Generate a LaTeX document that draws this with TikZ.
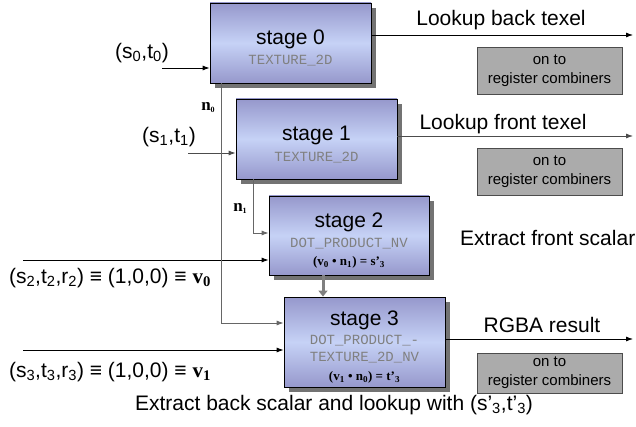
\documentclass[tikz,border=0pt]{standalone}
\usepackage{fontspec}
\setmainfont{Liberation Sans}
\newfontfamily\codefont{Liberation Mono}
\newfontfamily\timesfont{Liberation Serif}
\usetikzlibrary{arrows.meta,shadows}

\newcommand{\bigtxt}{\fontsize{21}{24}\selectfont}
\newcommand{\codetxt}{\codefont\fontsize{14}{17}\selectfont\color{black!50}}
\newcommand{\mathtxt}{\timesfont\bfseries\fontsize{13}{17}\selectfont}
\newcommand{\smalltxt}{\fontsize{15}{19}\selectfont}
\newcommand{\subtxt}{\fontsize{8}{8}\selectfont}
\newcommand{\stagetitle}[1]{\rule{0pt}{25pt}{\bigtxt stage #1}}

\tikzset{
  stagebox/.style={draw=black, line width=0.8pt,
    top color=stagedark, bottom color=stagedark, middle color=stagelight,
    align=center, inner sep=0pt, font=\fontsize{14}{18}\selectfont,
    drop shadow={shadow xshift=5pt, shadow yshift=-5pt, fill=black!55, opacity=1}},
  combbox/.style={draw=black!70, line width=0.8pt, fill=black!33,
    minimum width=145pt, align=center, inner sep=0pt, font=\smalltxt},
  feed/.style={line width=0.8pt, -{Latex[length=7pt,width=5pt]}},
  lbl/.style={font=\bigtxt, inner sep=0pt},
  nlbl/.style={font=\timesfont\bfseries\fontsize{17}{20}\selectfont, inner sep=0pt}
}
\definecolor{stagedark}{RGB}{150,152,204}
\definecolor{stagelight}{RGB}{198,210,246}

\begin{document}
\begin{tikzpicture}[x=1pt,y=-1pt]
		\useasboundingbox (0,0) rectangle (636,427);

		% Points
		\coordinate (in0) at (162,68);
		\coordinate (in1) at (188,153);
		\coordinate (in2) at (23,260);
		\coordinate (in3) at (23,350);
		\coordinate (out0) at (633,35);
		\coordinate (out1) at (633,136);
		\coordinate (out3) at (633,339);
		\coordinate (n0turn) at (221,323);
		\coordinate (n1turn) at (253,233);

		% Stages
		\node[stagebox, minimum width=161pt, minimum height=80pt] (stage0) at (290.5,43)
			{\stagetitle{0}\\[2pt]{\codetxt TEXTURE\_2D}};
		\node[stagebox, minimum width=161pt, minimum height=80pt] (stage1) at (316.5,139)
			{\stagetitle{1}\\[3pt]{\codetxt TEXTURE\_2D}};
		\node[stagebox, minimum width=160pt, minimum height=79pt] (stage2) at (349,235.5)
			{\stagetitle{2}\\[2pt]{\codetxt DOT\_PRODUCT\_NV}\\
			{\mathtxt (v\textsubscript{0} • n\textsubscript{1}) = s’\textsubscript{3}}};
		\node[stagebox, minimum width=161pt, minimum height=90pt] (stage3) at (364.5,342)
			{\stagetitle{3}\\[1pt]{\codetxt DOT\_PRODUCT\_-}\\[-1pt]{\codetxt TEXTURE\_2D\_NV}\\[1pt]
			{\mathtxt (v\textsubscript{1} • n\textsubscript{0}) = t’\textsubscript{3}}};

		% Register combiners
		\node[combbox, minimum height=47pt] (comb0) at (549.5,70.5) {on to\\register combiners};
		\node[combbox, minimum height=47pt] (comb1) at (549.5,171.5) {on to\\register combiners};
		\node[combbox, minimum height=40pt] (comb3) at (549.5,373) {on to\\register combiners};

		% Labels
		\node[lbl] (lin0) at (142,53) {(s\textsubscript{0},t\textsubscript{0})};
		\node[lbl] (lin1) at (169,137) {(s\textsubscript{1},t\textsubscript{1})};
		\node[lbl] (lin2) at (110,278) {(s\textsubscript{2},t\textsubscript{2},r\textsubscript{2}) ≡ (1,0,0) ≡ {\timesfont\bfseries v\textsubscript{0}}};
		\node[lbl] (lin3) at (110,372) {(s\textsubscript{3},t\textsubscript{3},r\textsubscript{3}) ≡ (1,0,0) ≡ {\timesfont\bfseries v\textsubscript{1}}};
		\node[nlbl] (ln0) at (208,108) {n{\subtxt\raisebox{-2pt}{0}}};
		\node[nlbl] (ln1) at (240,208) {n{\subtxt\raisebox{-2pt}{1}}};
		\node[lbl] (lout0) at (501,20) {Lookup back texel};
		\node[lbl] (lout1) at (503,124) {Lookup front texel};
		\node[lbl] (lout3) at (542,325) {RGBA result};
		\node[lbl, anchor=west] (lfront) at (460,238) {Extract front scalar};
		\node[lbl] (lback) at (334,405) {Extract back scalar and lookup with (s’\textsubscript{3},t’\textsubscript{3})};

		% Segments
		\draw[feed] (in0) -- (in0 -| stage0.west);
		\draw[feed, black!70] (in1) -- (in1 -| stage1.west);
		\draw[feed] (in2) -- (in2 -| stage2.west);
		\draw[feed] (in3) -- (in3 -| stage3.west);
		\draw[feed] (out0 -| stage0.east) -- (out0);
		\draw[feed, black!70] (out1 -| stage1.east) -- (out1);
		\draw[feed] (out3 -| stage3.east) -- (out3);
		\draw[feed, black!60] (stage0.south -| n0turn) -- (n0turn) -- (n0turn -| stage3.west);
		\draw[feed, black!60] (stage1.south -| n1turn) -- (n1turn) -- (n1turn -| stage2.west);
		\draw[black!50, line width=3pt, -{Triangle[length=6pt,width=9pt]}] (stage2.south -| 323,0) -- (stage3.north -| 323,0);
	\end{tikzpicture}
\end{document}
